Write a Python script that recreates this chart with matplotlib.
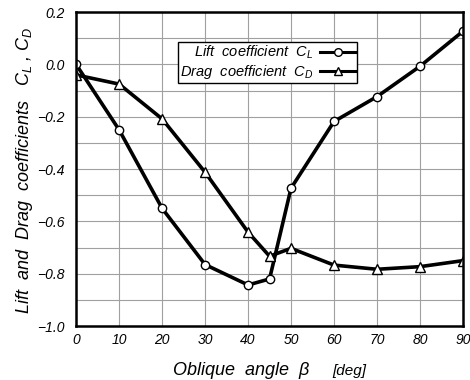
import matplotlib

matplotlib.use("Agg")
import matplotlib.pyplot as plt

# oblique angle (deg) and coefficients
beta = [0, 10, 20, 30, 40, 45, 50, 60, 70, 80, 90]
cl = [0.0, -0.25, -0.55, -0.765, -0.843, -0.82, -0.473, -0.218, -0.123, -0.007, 0.127]
cd = [-0.04, -0.075, -0.208, -0.412, -0.641, -0.733, -0.703, -0.767, -0.783, -0.773, -0.75]

x_ticks = list(range(0, 91, 10))
y_ticks = [-1.0, -0.8, -0.6, -0.4, -0.2, 0.0, 0.2]
y_labels = ["\u22121.0", "\u22120.8", "\u22120.6", "\u22120.4", "\u22120.2", "0.0", "0.2"]

plt.rcParams["font.family"] = ["Liberation Sans", "DejaVu Sans"]
plt.rcParams["font.style"] = "italic"
plt.rcParams["mathtext.fontset"] = "custom"
plt.rcParams["mathtext.it"] = "Liberation Sans:italic"
plt.rcParams["mathtext.rm"] = "Liberation Sans:italic"

fig = plt.figure(figsize=(4.7, 3.8), dpi=100)
ax = fig.add_axes([0.162, 0.142, 0.823, 0.826])

ax.plot(beta, cl, color="black", lw=2.6, marker="o", ms=6,
        mfc="white", mec="black", mew=1.0,
        label="Lift  coefficient  $C_L$")
ax.plot(beta, cd, color="black", lw=2.6, marker="^", ms=7,
        mfc="white", mec="black", mew=1.0,
        label="Drag  coefficient  $C_D$")

ax.set_xlim(0, 90)
ax.set_ylim(-1.0, 0.2)
ax.set_xticks(x_ticks)
ax.set_yticks(y_ticks)
ax.set_yticklabels(y_labels)
ax.set_yticks([-0.9, -0.7, -0.5, -0.3, -0.1, 0.1], minor=True)
ax.tick_params(which="both", length=0, labelsize=10)
ax.tick_params(axis="y", pad=8)
ax.tick_params(axis="x", pad=5)
ax.grid(True, which="both", color="#a0a0a0", lw=0.8)
ax.set_axisbelow(True)
for s in ax.spines.values():
    s.set_linewidth(1.8)

leg = ax.legend(loc="upper left", bbox_to_anchor=(0.263, 0.905), markerfirst=False,
                fontsize=10.5, frameon=True, fancybox=False, edgecolor="black",
                framealpha=1, borderpad=0.12, labelspacing=0.12, handlelength=2.4,
                handletextpad=0.5, borderaxespad=0)
leg.get_frame().set_linewidth(1.0)
for t in leg.get_texts():
    t.set_ha("right")
for h in leg.legend_handles:
    h.set_linewidth(2.2)
    h.set_markersize(5.5)

fig.text(0.368, 0.012, "Oblique  angle  \u03b2", fontsize=13, ha="left", va="baseline")
fig.text(0.706, 0.012, "[deg]", fontsize=11, ha="left", va="baseline")
fig.text(0.052, 0.553, "Lift  and  Drag  coefficients   $C_L$ , $C_D$", fontsize=13,
         rotation=90, ha="center", va="center")

fig.savefig("out.png", dpi=100)
